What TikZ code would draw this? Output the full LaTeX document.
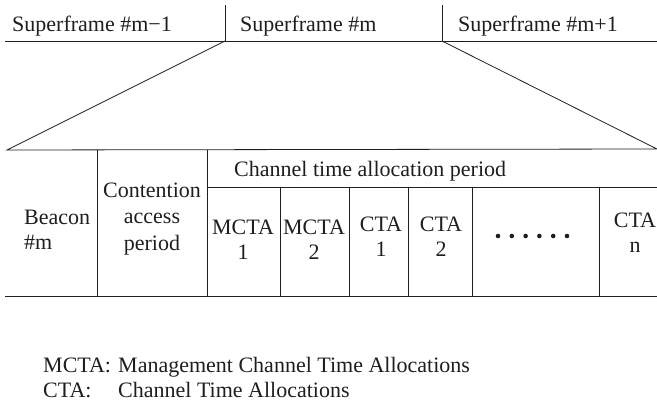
\documentclass[tikz,border=0pt]{standalone}
\usepackage{fontspec}
\setmainfont{Liberation Serif}
\usepackage{tikz}
\usetikzlibrary{positioning, calc}
\definecolor{colInk}{HTML}{1E1E1E}
\tikzset{
  rule/.style={draw=colInk, line width=0.8pt},
  txt/.style={inner sep=0pt, text=colInk, font=\fontsize{22}{25}\selectfont},
  % multi-line cells sit on the baseline of their last line
  cell/.style={txt, align=center, anchor=base},
  dotmark/.style={fill=colInk}
}

\begin{document}
\begin{tikzpicture}[x=1pt, y=-1pt]
  \useasboundingbox (0,0) rectangle (657,404);
  % superframe strip
  \coordinate (sfL) at (225,41);
  \coordinate (sfR) at (442,41);
  \draw[rule] (5,41) -- (657,41);
  \draw[rule] (225,5) -- (sfL);
  \draw[rule] (442,5) -- (sfR);
  \node[txt, anchor=base west] (sfprev) at (12,32)  {Superframe \#m−1};
  \node[txt, anchor=base west] (sfcur)  at (240,32) {Superframe \#m};
  \node[txt, anchor=base west] (sfnext) at (458,32) {Superframe \#m+1};
  % expanded superframe
  \coordinate (tl) at (7,150);
  \coordinate (tr) at (657,149);
  \draw[rule] (sfL) -- (tl) -- (tr) -- (sfR);
  \draw[rule] (5,296) -- (657,296);
  \draw[rule] (207,187) -- (657,187);
  \foreach \x in {97,207} \draw[rule] (\x,150) -- (\x,296);
  \foreach \x in {280,349,408,472,599} \draw[rule] (\x,187) -- (\x,296);
  % field labels
  \node[txt, anchor=base west, align=left] (beacon) at (24,249) {Beacon\\\#m};
  \node[cell, font=\fontsize{22}{26.5}\selectfont] (cap) at (152,250) {Contention\\access\\period};
  \node[txt, anchor=base west] (ctap) at (234,176) {Channel time allocation period};
  \node[cell] (mcta1) at (243,259) {MCTA\\1};
  \node[cell] (mcta2) at (314,259) {MCTA\\2};
  \node[cell] (cta1)  at (381,256) {CTA\\1};
  \node[cell] (cta2)  at (441,256) {CTA\\2};
  \node[cell] (ctan)  at (635,252) {CTA\\n};
  \foreach \i in {0,...,5} \fill[dotmark] (498+13.8*\i,236) circle (2.3);
  % abbreviations
  \node[txt, anchor=base west] (abm)  at (43,372)  {MCTA:};
  \node[txt, anchor=base west] (abmt) at (118,372) {Management Channel Time Allocations};
  \node[txt, anchor=base west] (abc)  at (43,397)  {CTA:};
  \node[txt, anchor=base west] (abct) at (118,397) {Channel Time Allocations};
\end{tikzpicture}
\end{document}
